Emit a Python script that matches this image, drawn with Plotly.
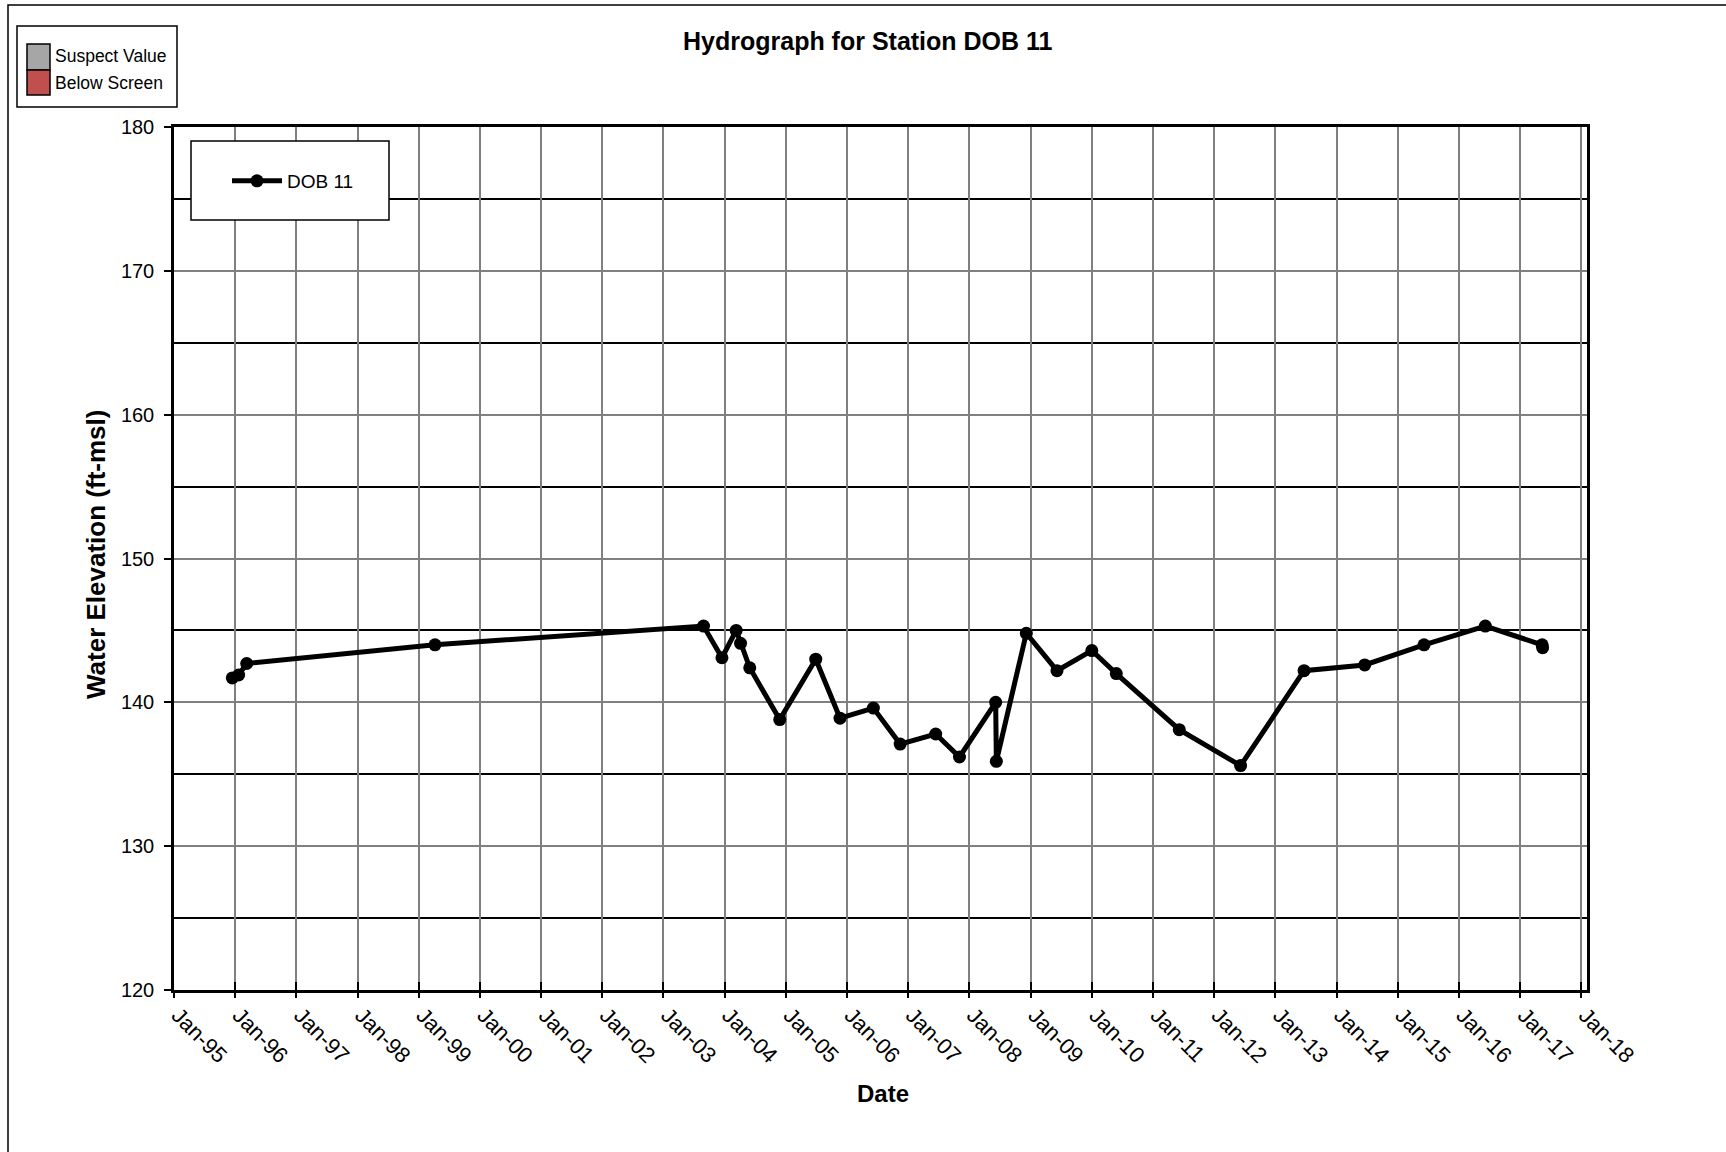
import plotly.graph_objects as go

# ---- data ----
dates = [
    "1995-12-15", "1996-01-22", "1996-03-10", "1999-04-08", "2003-08-28",
    "2003-12-16", "2004-03-10", "2004-04-05", "2004-05-30", "2004-11-25",
    "2005-06-28", "2005-11-20", "2006-06-07", "2006-11-14", "2007-06-14",
    "2007-11-03", "2008-06-06", "2008-06-10", "2008-12-06", "2009-06-07",
    "2010-01-01", "2010-05-27", "2011-06-07", "2012-06-07", "2013-06-21",
    "2014-06-18", "2015-06-07", "2016-06-07", "2017-05-12", "2017-05-15",
]
elevation = [
    141.7, 141.9, 142.7, 144.0, 145.3,
    143.1, 145.0, 144.1, 142.4, 138.8,
    143.0, 138.9, 139.6, 137.1, 137.8,
    136.2, 140.0, 135.9, 144.8, 142.2,
    143.6, 142.0, 138.1, 135.6, 142.2,
    142.6, 144.0, 145.3, 144.0, 143.8,
]
year_ticks = [f"{y}-01-01" for y in range(1995, 2019)]
year_labels = [f"Jan-{str(y)[2:]}" for y in range(1995, 2019)]
y_major = [120, 130, 140, 150, 160, 170, 180]

FONT = "Arial, Liberation Sans, sans-serif"
W, H = 1726, 1152
ML, MR, MT, MB = 174, 139, 127, 162
PW, PH = W - ML - MR, H - MT - MB


def px(x):
    """screen pixel x -> paper coordinate"""
    return (x - ML) / PW


def py(y):
    """screen pixel y -> paper coordinate"""
    return 1 - (y - MT) / PH


fig = go.Figure()
fig.add_trace(go.Scatter(
    x=dates, y=elevation, mode="lines+markers", name="DOB 11",
    line=dict(color="black", width=5),
    marker=dict(color="black", size=13),
))
# helper trace so the overlay axis (inside half of the cross tick marks) is drawn
fig.add_trace(go.Scatter(x=[year_ticks[0]], y=[None], xaxis="x2",
                         showlegend=False, hoverinfo="skip"))

fig.update_layout(
    width=W, height=H,
    margin=dict(l=ML, r=MR, t=MT, b=MB),
    paper_bgcolor="white", plot_bgcolor="white",
    font=dict(family=FONT, color="black"),
    xaxis=dict(
        type="date", range=["1995-01-01", "2018-02-04"],
        tickmode="array", tickvals=year_ticks, ticktext=year_labels,
        tickangle=45, tickfont=dict(size=22, family=FONT),
        ticks="outside", ticklen=5, tickwidth=2, tickcolor="black",
        ticklabelshift=4, ticklabelstandoff=-4,
        showgrid=True, gridcolor="#808080", gridwidth=1.5,
        showline=True, linecolor="black", linewidth=2.5, mirror=True,
        zeroline=False,
    ),
    xaxis2=dict(
        type="date", range=["1995-01-01", "2018-02-04"], overlaying="x",
        anchor="y", side="bottom",
        tickmode="array", tickvals=year_ticks, showticklabels=False,
        ticks="inside", ticklen=8, tickwidth=2, tickcolor="black",
        showgrid=False, showline=False, zeroline=False,
    ),
    yaxis=dict(
        range=[120, 180], tickmode="array", tickvals=y_major,
        tickfont=dict(size=20, family=FONT),
        ticks="outside", ticklen=7, tickwidth=2, tickcolor="black",
        ticklabelstandoff=6,
        showgrid=True, gridcolor="#808080", gridwidth=1.5,
        minor=dict(tickmode="linear", tick0=125, dtick=10, showgrid=True,
                   gridcolor="black", gridwidth=1.5, ticks=""),
        showline=True, linecolor="black", linewidth=2.5, mirror=True,
        zeroline=False,
    ),
    showlegend=True,
    legend=dict(
        x=px(227), y=py(181), xanchor="left", yanchor="middle",
        bgcolor="rgba(0,0,0,0)", borderwidth=0,
        font=dict(size=19, family=FONT), itemwidth=50,
    ),
)

shapes = [
    # outer chart border
    dict(type="rect", xref="paper", yref="paper",
         x0=px(8), y0=py(1175), x1=px(1760), y1=py(5),
         line=dict(color="black", width=1.5), fillcolor="rgba(0,0,0,0)", layer="below"),
    # in-plot legend box
    dict(type="rect", xref="paper", yref="paper",
         x0=px(191), y0=py(220), x1=px(389), y1=py(141),
         line=dict(color="black", width=1.5), fillcolor="white", layer="above"),
    # top-left status legend
    dict(type="rect", xref="paper", yref="paper",
         x0=px(17), y0=py(107), x1=px(177), y1=py(26),
         line=dict(color="black", width=1.5), fillcolor="white"),
    dict(type="rect", xref="paper", yref="paper",
         x0=px(27), y0=py(70), x1=px(50), y1=py(44),
         line=dict(color="black", width=1.5), fillcolor="#A6A6A6"),
    dict(type="rect", xref="paper", yref="paper",
         x0=px(27), y0=py(95), x1=px(50), y1=py(70),
         line=dict(color="black", width=1.5), fillcolor="#C0504D"),
]

annotations = [
    dict(text="Hydrograph for Station DOB 11", x=px(868), y=py(41),
         xref="paper", yref="paper", showarrow=False, xanchor="center", yanchor="middle",
         font=dict(size=25, family=FONT, weight="bold")),
    dict(text="Water Elevation (ft-msl)", x=px(96), y=py(555), textangle=-90,
         xref="paper", yref="paper", showarrow=False, xanchor="center", yanchor="middle",
         font=dict(size=26, family=FONT, weight="bold")),
    dict(text="Date", x=px(883), y=py(1093),
         xref="paper", yref="paper", showarrow=False, xanchor="center", yanchor="middle",
         font=dict(size=24, family=FONT, weight="bold")),
    dict(text="Suspect Value", x=px(53), y=py(56),
         xref="paper", yref="paper", showarrow=False, xanchor="left", yanchor="middle",
         font=dict(size=17.5, family=FONT)),
    dict(text="Below Screen", x=px(53), y=py(83),
         xref="paper", yref="paper", showarrow=False, xanchor="left", yanchor="middle",
         font=dict(size=17.5, family=FONT)),
]

fig.update_layout(shapes=shapes, annotations=annotations)
fig.write_html(
    "out.html",
    config={"displayModeBar": False},
    post_script="document.body.style.margin='0px';",
)
